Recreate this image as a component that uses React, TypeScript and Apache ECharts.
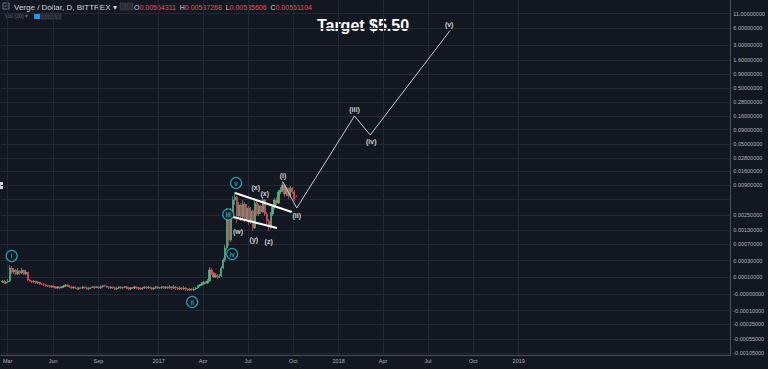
import React, { useEffect, useRef } from "react";
import * as echarts from "echarts";

// ---------- data ----------
// 4-day bars of VERGE / USD (Bittrex); prices in millionths of a dollar: [open, close, low, high]
const MICRO = 1e-6;
const BAR_START = "2016-02-19";
const BAR_DAYS = 4;
const candles: number[][] = [
  [64, 71, 58, 78], [71, 58, 51, 78], [58, 64, 51, 71], [64, 71, 58, 86],
  [71, 194, 64, 232], [194, 148, 129, 219], [148, 170, 129, 194], [170, 129, 119, 182],
  [129, 159, 119, 194], [159, 138, 119, 170], [138, 170, 129, 194], [170, 129, 119, 170],
  [129, 148, 119, 170], [148, 78, 71, 148], [78, 71, 64, 86], [71, 64, 58, 78],
  [64, 71, 58, 78], [71, 58, 51, 71], [58, 64, 51, 71], [64, 51, 45, 64],
  [51, 48, 45, 58], [48, 45, 39, 58], [45, 39, 34, 51], [39, 41, 34, 45],
  [41, 34, 28, 45], [34, 39, 28, 45], [39, 34, 28, 41], [34, 28, 23, 39],
  [28, 34, 23, 39], [34, 29, 23, 36], [29, 34, 28, 39], [34, 39, 28, 45],
  [39, 45, 34, 51], [45, 41, 34, 53], [41, 34, 28, 45], [34, 28, 23, 39],
  [28, 33, 23, 39], [33, 28, 23, 36], [28, 24, 18, 34], [24, 29, 18, 34],
  [29, 28, 23, 33], [28, 34, 23, 39], [34, 29, 23, 36], [29, 24, 18, 34],
  [24, 28, 18, 34], [28, 31, 23, 34], [31, 36, 28, 39], [36, 30, 23, 39],
  [30, 35, 28, 39], [35, 29, 23, 36], [29, 36, 23, 41], [36, 41, 30, 45],
  [41, 39, 34, 47], [39, 33, 28, 41], [33, 28, 23, 39], [28, 34, 23, 39],
  [34, 29, 23, 36], [29, 23, 18, 34], [23, 28, 18, 34], [28, 34, 23, 39],
  [34, 29, 23, 39], [29, 31, 23, 36], [31, 35, 28, 39], [35, 29, 23, 36],
  [29, 24, 18, 34], [24, 29, 18, 34], [29, 28, 23, 34], [28, 34, 23, 39],
  [34, 29, 23, 36], [29, 27, 18, 34], [27, 23, 18, 33], [23, 28, 18, 34],
  [28, 34, 23, 39], [34, 29, 23, 39], [29, 33, 23, 39], [33, 28, 23, 36],
  [28, 23, 18, 34], [23, 29, 18, 34], [29, 34, 23, 39], [34, 28, 23, 39],
  [28, 31, 23, 34], [31, 35, 23, 39], [35, 28, 23, 39], [28, 34, 23, 39],
  [34, 29, 23, 39], [29, 35, 23, 45], [35, 28, 18, 39], [28, 34, 23, 45],
  [34, 28, 18, 39], [28, 23, 18, 34], [23, 28, 18, 39], [28, 23, 18, 34],
  [23, 28, 18, 39], [28, 23, 13, 34], [23, 18, 13, 28], [18, 23, 13, 28],
  [23, 18, 13, 28], [18, 23, 13, 34], [23, 28, 18, 34], [28, 39, 23, 45],
  [39, 45, 34, 51], [45, 51, 39, 64], [51, 64, 45, 71], [64, 58, 51, 71],
  [58, 71, 51, 86], [71, 170, 71, 206], [170, 138, 119, 194], [138, 102, 94, 148],
  [102, 119, 94, 138], [119, 102, 86, 129], [102, 111, 94, 129], [111, 194, 102, 219],
  [194, 309, 182, 344], [309, 572, 276, 661], [572, 2647, 518, 3421], [2647, 836, 630, 2884],
  [836, 2884, 762, 3421], [2884, 4804, 2647, 5688], [4804, 5453, 3887, 6731], [5453, 2429, 1792, 5688],
  [2429, 3887, 2228, 4415], [3887, 2326, 1956, 4231], [2326, 4056, 2133, 4804], [4056, 2133, 1872, 4415],
  [2133, 3421, 1956, 4056], [3421, 1872, 1642, 3725], [1872, 3010, 1716, 3570], [3010, 1438, 1259, 3278],
  [1438, 4231, 1376, 5228], [4231, 2647, 2429, 4605], [2647, 3725, 2429, 4056], [3725, 2884, 2647, 3887],
  [2884, 4804, 2763, 5453], [4804, 2647, 2429, 5012], [2647, 1956, 1716, 2884], [1956, 1504, 1259, 2133],
  [1504, 2647, 1376, 2884], [2647, 3570, 2429, 3887], [3570, 4804, 3278, 5228], [4804, 4231, 3887, 5453],
  [4231, 6731, 4056, 7321], [6731, 7321, 6188, 8303], [7321, 9028, 6731, 10674], [9028, 6188, 5453, 9415],
  [6188, 7962, 5688, 8303], [7962, 5688, 5012, 8000], [5688, 7962, 5228, 8658], [7962, 6731, 6188, 8303],
  [6731, 5012, 4605, 7321], [5643.11, 5611.04, 5356.06, 5872.68],
];

const lastBar = { open: "0.00564311", high: "0.00587268", low: "0.00535606", close: "0.00561104" };
const lastPrice = 0.00561104;

// grid lines of the price scale (0.005 is hidden behind the last-price tag)
const priceTicks = [11, 6, 3, 1.6, 0.9, 0.5, 0.28, 0.16, 0.09, 0.05, 0.028, 0.016, 0.009, 0.005,
  0.0025, 0.0013, 0.0007, 0.0003, 0.0001, 0, -0.0001, -0.00025, -0.00055, -0.00105];
const labelledPriceTicks = [11, 6, 3, 1.6, 0.9, 0.5, 0.28, 0.16, 0.09, 0.05, 0.028, 0.016, 0.009,
  0.0025, 0.0013, 0.0007, 0.0003, 0.0001, 0, -0.0001, -0.00025, -0.00055, -0.00105];
const priceTickLabels = ["11.00000000", "6.00000000", "3.00000000", "1.60000000", "0.90000000",
  "0.50000000", "0.28000000", "0.16000000", "0.09000000", "0.05000000", "0.02800000", "0.01600000",
  "0.00900000", "0.00250000", "0.00130000", "0.00070000", "0.00030000", "0.00010000",
  "-0.00000000", "-0.00010000", "-0.00025000", "-0.00055000", "-0.00105000"];

const timeTicks = ["2016-03-01", "2016-06-01", "2016-09-01", "2017-01-01", "2017-04-01", "2017-07-01",
  "2017-10-01", "2018-01-01", "2018-04-01", "2018-07-01", "2018-10-01", "2019-01-01"];
const timeTickLabels = ["Mar", "Jun", "Sep", "2017", "Apr", "Jul", "Oct", "2018", "Apr", "Jul", "Oct", "2019"];

// Elliott-wave annotations
const waveCircleNames = ["i", "ii", "iii", "iv", "v"];
const waveCircleDates = ["2016-03-09", "2017-03-10", "2017-05-22", "2017-05-30", "2017-06-07"];
const waveCirclePrices = [0.000383, -0.0000393, 0.002591, 0.000424, 0.009817];

const subWaveNames = ["(w)", "(x)", "(y)", "(x)", "(z)", "(i)", "(ii)", "(iii)", "(iv)", "(v)"];
const subWaveDates = ["2017-06-11", "2017-07-17", "2017-07-13", "2017-08-04", "2017-08-12",
  "2017-09-10", "2017-10-08", "2018-02-02", "2018-03-08", "2018-08-13"];
const subWavePrices = [0.001259, 0.008303, 0.000875, 0.006455, 0.000798, 0.01371, 0.002536, 0.2124, 0.0542, 7.18];

const projectionDates = ["2017-09-10", "2017-10-08", "2018-02-02", "2018-03-06", "2018-08-15"];
const projectionPrices = [0.01024, 0.003421, 0.159, 0.0724, 5.5];

const channelUpperDates = ["2017-06-05", "2017-09-28"];
const channelUpperPrices = [0.006455, 0.002884];
const channelLowerDates = ["2017-06-01", "2017-08-29"];
const channelLowerPrices = [0.002326, 0.001438];

// ---------- helpers ----------
const DAY = 86400000;
const ts = (d: string) => Date.parse(d + "T00:00:00Z");
// TradingView-style log price scale (works through zero and negative values)
const toScale = (p: number) => {
  const m = Math.abs(p);
  if (m < 1e-15) return 0;
  const r = Math.log10(m + 1e-4) + 4;
  return p < 0 ? -r : r;
};

const FONT = "'Liberation Sans', Arial, sans-serif";
const BG = "#131722";
const GRID = "#242834";
const UP = "#53b987";
const DOWN = "#eb4d5c";
const TEAL = "#37c1d0";
const AXIS_TEXT = "#b2b5be";

export default function App() {
  const ref = useRef<HTMLDivElement>(null);
  useEffect(() => {
    if (!ref.current) return;
    const chart = echarts.init(ref.current, undefined, { renderer: "svg" });
    const start = ts(BAR_START);
    const candleData = candles.map((c, i) => [
      start + i * BAR_DAYS * DAY,
      toScale(c[0] * MICRO), toScale(c[1] * MICRO), toScale(c[2] * MICRO), toScale(c[3] * MICRO),
    ]);
    const yGridVals = priceTicks.map(toScale);
    const yLabelVals = labelledPriceTicks.map(toScale);
    const xTickVals = timeTicks.map(ts);
    const line = (dates: string[], prices: number[]) => dates.map((d, i) => [ts(d), toScale(prices[i])]);

    chart.setOption({
      animation: false,
      backgroundColor: BG,
      grid: { left: 0, right: 37, top: 0, bottom: 14 },
      xAxis: {
        type: "value",
        min: ts("2016-02-15") + 0.8 * DAY,
        max: ts("2020-03-05"),
        axisLine: { show: true, onZero: false, lineStyle: { color: "#4a4f5b", width: 1 } },
        axisTick: { show: false, customValues: xTickVals },
        axisLabel: {
          customValues: xTickVals,
          color: AXIS_TEXT, fontSize: 5.5, fontFamily: FONT, margin: 3,
          formatter: (v: number) => {
            const i = xTickVals.findIndex((t) => Math.abs(t - v) < DAY / 2);
            return i >= 0 ? timeTickLabels[i] : "";
          },
        },
        splitLine: { show: true, lineStyle: { color: GRID, width: 1 } },
      },
      yAxis: {
        type: "value",
        position: "right",
        min: -1.097,
        max: 5.288,
        axisLine: { show: true, onZero: false, lineStyle: { color: "#4a4f5b", width: 1 } },
        axisTick: { show: false, customValues: yGridVals },
        axisLabel: {
          customValues: yLabelVals,
          color: AXIS_TEXT, fontSize: 5.5, fontFamily: FONT, margin: 3,
          formatter: (v: number) => {
            const i = yLabelVals.findIndex((t) => Math.abs(t - v) < 1e-6);
            return i >= 0 ? priceTickLabels[i] : "";
          },
        },
        splitLine: { show: true, lineStyle: { color: GRID, width: 1 } },
      },
      series: [
        {
          type: "candlestick",
          data: candleData,
          encode: { x: 0, y: [1, 2, 3, 4] },
          barWidth: 1.7,
          itemStyle: { color: UP, color0: DOWN, borderColor: UP, borderColor0: DOWN, borderWidth: 0.7 },
          markLine: {
            silent: true,
            symbol: "none",
            data: [{ yAxis: toScale(lastPrice) }],
            lineStyle: { color: DOWN, width: 1, opacity: 0 },
            label: {
              position: "end", formatter: lastBar.close, color: "#ffffff",
              backgroundColor: DOWN, fontSize: 5.5, fontFamily: FONT,
              padding: [2, 3, 1, 3], distance: 2,
            },
          },
        },
        {
          type: "line", data: line(projectionDates, projectionPrices), symbol: "none",
          lineStyle: { color: "#c9cbd1", width: 1 }, z: 3,
        },
        {
          type: "line", data: line(channelUpperDates, channelUpperPrices), symbol: "none",
          lineStyle: { color: "#ffffff", width: 2 }, z: 3,
        },
        {
          type: "line", data: line(channelLowerDates, channelLowerPrices), symbol: "none",
          lineStyle: { color: "#ffffff", width: 2 }, z: 3,
        },
        {
          type: "scatter", z: 5,
          data: waveCircleNames.map((n, i) => ({ name: n, value: [ts(waveCircleDates[i]), toScale(waveCirclePrices[i])] })),
          symbol: "circle", symbolSize: 11,
          itemStyle: { color: BG, borderColor: TEAL, borderWidth: 1.2 },
          label: {
            show: true, position: "inside", formatter: "{b}", color: TEAL, fontSize: 6.5, fontWeight: "bold",
            fontFamily: FONT, textBorderWidth: 0,
          },
        },
        {
          type: "scatter", z: 5,
          data: subWaveNames.map((n, i) => ({ name: n, value: [ts(subWaveDates[i]), toScale(subWavePrices[i])] })),
          symbol: "circle", symbolSize: 0.5, itemStyle: { color: BG, borderWidth: 0 },
          label: {
            show: true, position: "inside", formatter: "{w|{b}}",
            rich: { w: { color: "#ffffff", fontSize: 7, fontWeight: "bold", fontFamily: FONT, textBorderWidth: 0 } },
            color: "#ffffff", fontSize: 7, fontWeight: "bold", fontFamily: FONT, textBorderWidth: 0,
          },
        },
      ],
      graphic: [
        { type: "rect", shape: { x: 3, y: 3, width: 6, height: 6 }, style: { fill: "none", stroke: "#8a8e99", lineWidth: 0.8 } },
        { type: "line", shape: { x1: 4.5, y1: 6, x2: 7.5, y2: 6 }, style: { stroke: "#8a8e99", lineWidth: 0.8 } },
        {
          type: "text", x: 14, y: 7,
          style: { text: "Verge / Dollar, D, BITTREX ▾", fill: "#d1d4dc", fontSize: 8, fontFamily: FONT, verticalAlign: "middle" },
        },
        { type: "rect", shape: { x: 120, y: 3, width: 6, height: 7 }, style: { fill: "#2a2e39", stroke: "#434651", lineWidth: 0.6 } },
        { type: "rect", shape: { x: 127, y: 3, width: 6, height: 7 }, style: { fill: "#2a2e39", stroke: "#434651", lineWidth: 0.6 } },
        {
          type: "text", x: 134, y: 7,
          style: {
            text: `O{r|${lastBar.open}}  H{r|${lastBar.high}}  L{r|${lastBar.low}}  C{r|${lastBar.close}}`,
            fill: "#d1d4dc", fontSize: 7, fontFamily: FONT, verticalAlign: "middle",
            rich: { r: { fill: DOWN, fontSize: 7, fontFamily: FONT } },
          },
        },
        {
          type: "text", x: 5, y: 16,
          style: { text: "Vol (20) ▾", fill: "#6a6e79", fontSize: 5.5, fontFamily: FONT, verticalAlign: "middle" },
        },
        { type: "rect", shape: { x: 34, y: 13, width: 6, height: 6 }, style: { fill: "#2196f3" } },
        { type: "rect", shape: { x: 41, y: 13, width: 6, height: 6 }, style: { fill: "#2a2e39", stroke: "#434651", lineWidth: 0.6 } },
        { type: "rect", shape: { x: 48, y: 13, width: 6, height: 6 }, style: { fill: "#2a2e39", stroke: "#434651", lineWidth: 0.6 } },
        { type: "rect", shape: { x: 55, y: 13, width: 6, height: 6 }, style: { fill: "#2a2e39", stroke: "#434651", lineWidth: 0.6 } },
        { type: "rect", shape: { x: 0, y: 182, width: 3, height: 7 }, style: { fill: "#d1d4dc" } },
        {
          type: "text", x: 363, y: 25,
          style: { text: "Target $5.50", fill: "#ffffff", fontSize: 16, fontWeight: "bold", fontFamily: FONT, align: "center", verticalAlign: "middle" },
        },
      ],
    });
    return () => chart.dispose();
  }, []);
  return <div ref={ref} style={{ width: 768, height: 369, position: "absolute", left: 0, top: 0 }} />;
}
